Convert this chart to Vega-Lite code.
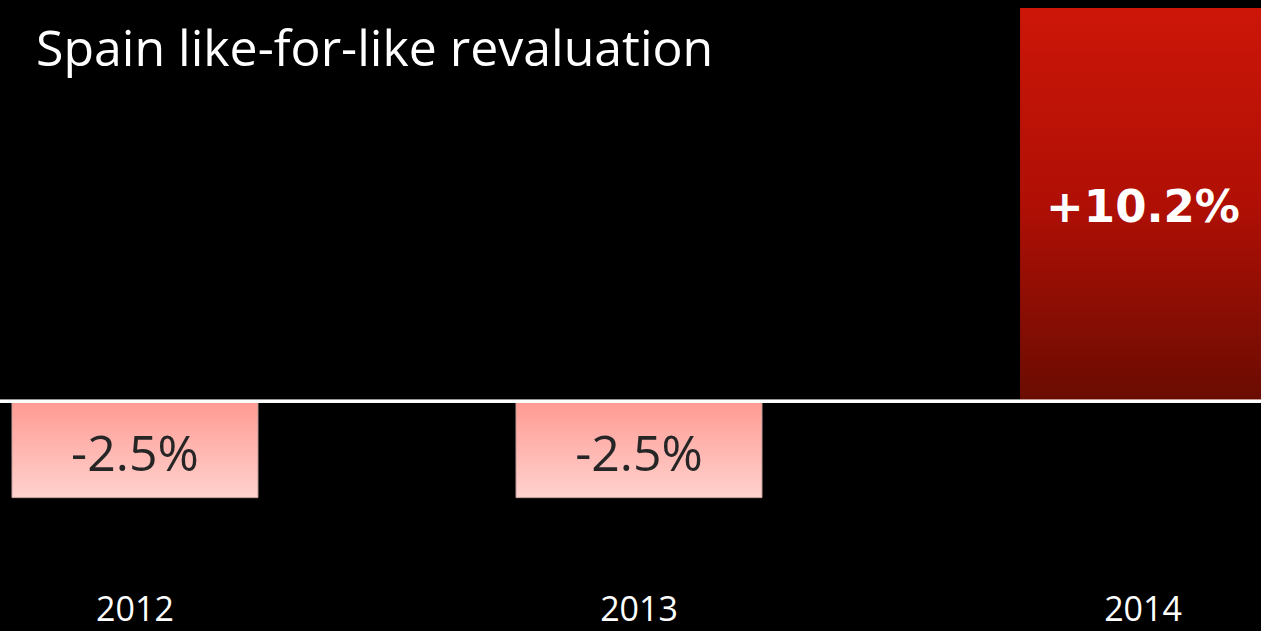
{
  "$schema": "https://vega.github.io/schema/vega-lite/v6.json",
  "width": 1261,
  "height": 594,
  "autosize": {"type": "none"},
  "padding": {"left": 0, "top": 0, "right": 0, "bottom": 37},
  "background": "#000000",
  "config": {"view": {"stroke": null}},
  "title": {
    "text": "Spain like-for-like revaluation",
    "anchor": "start",
    "frame": "group",
    "orient": "top",
    "font": "Open Sans",
    "fontSize": 50,
    "fontWeight": "normal",
    "color": "#ffffff",
    "dx": 36,
    "dy": 116,
    "offset": 0,
    "baseline": "alphabetic"
  },
  "data": {
    "values": [
      {"year": "2012", "value": -2.5, "label": "-2.5%"},
      {"year": "2013", "value": -2.5, "label": "-2.5%"},
      {"year": "2014", "value": 10.2, "label": "+10.2%"}
    ]
  },
  "layer": [
    {
      "transform": [{"filter": "datum.value < 0"}],
      "mark": {
        "type": "bar",
        "clip": true,
        "stroke": "#c7a09c",
        "strokeWidth": 1,
        "color": {
          "gradient": "linear",
          "x1": 0, "y1": 0, "x2": 0, "y2": 1,
          "stops": [
            {"offset": 0, "color": "#ff9a93"},
            {"offset": 1, "color": "#ffd2ce"}
          ]
        }
      },
      "encoding": {
        "x": {
          "field": "year",
          "type": "nominal",
          "scale": {"domain": ["2012", "2013", "2014"], "range": [0, 1278], "paddingInner": 0.512, "paddingOuter": 0.0238},
          "axis": {
            "orient": "bottom",
            "domain": false,
            "ticks": false,
            "tickSize": 0,
            "grid": false,
            "labelPadding": 26,
            "labelBaseline": "alphabetic",
            "labelFont": "Open Sans",
            "labelFontSize": 34,
            "labelColor": "#ffffff",
            "labelAngle": 0,
            "title": null
          }
        },
        "y": {"field": "value", "type": "quantitative", "scale": {"domain": [-5, 10.41], "nice": false, "zero": true}, "axis": null}
      }
    },
    {
      "transform": [{"filter": "datum.value > 0"}],
      "mark": {
        "type": "bar",
        "clip": true,
        "color": {
          "gradient": "linear",
          "x1": 0, "y1": 0, "x2": 0, "y2": 1,
          "stops": [
            {"offset": 0, "color": "#cc1608"},
            {"offset": 0.5, "color": "#b00f05"},
            {"offset": 1, "color": "#6a0c02"}
          ]
        }
      },
      "encoding": {
        "x": {"field": "year", "type": "nominal"},
        "y": {"field": "value", "type": "quantitative", "axis": null}
      }
    },
    {
      "transform": [{"filter": "datum.value < 0"}],
      "mark": {"type": "text", "font": "Open Sans", "fontSize": 50, "color": "#262626", "baseline": "middle", "align": "center", "dy": -42},
      "encoding": {
        "x": {"field": "year", "type": "nominal"},
        "y": {"field": "value", "type": "quantitative", "axis": null},
        "text": {"field": "label"}
      }
    },
    {
      "transform": [{"filter": "datum.value > 0"}],
      "mark": {"type": "text", "font": "DejaVu Sans", "fontWeight": "bold", "fontSize": 45, "color": "#ffffff", "baseline": "middle", "align": "center", "dy": 200},
      "encoding": {
        "x": {"field": "year", "type": "nominal"},
        "y": {"field": "value", "type": "quantitative", "axis": null},
        "text": {"field": "label"}
      }
    },
    {
      "mark": {"type": "rule", "color": "#ffffff", "strokeWidth": 3},
      "encoding": {"y": {"datum": 0, "type": "quantitative"}}
    }
  ]
}
